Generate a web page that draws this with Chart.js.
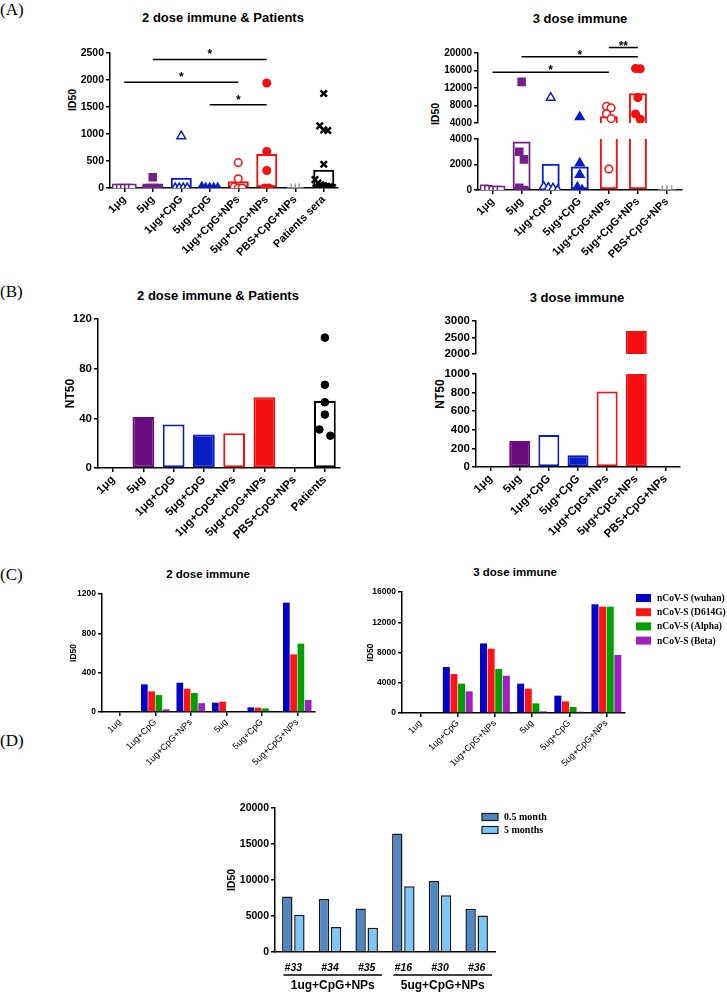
<!DOCTYPE html>
<html>
<head>
<meta charset="utf-8">
<script src="https://cdn.jsdelivr.net/npm/chart.js@4.4.0/dist/chart.umd.min.js"></script>
<style>
body{margin:0;background:#fff;width:727px;height:992px;position:relative;overflow:hidden;font-family:Arial,"Liberation Sans",sans-serif;}
canvas{position:absolute;}
.p{position:absolute;font-family:"Times New Roman","Liberation Serif",serif;font-size:17px;line-height:1;}
.t{position:absolute;font-weight:bold;white-space:nowrap;line-height:1;transform:translate(-50%,-50%);}
.yt{position:absolute;font-weight:bold;white-space:nowrap;line-height:1;transform:translate(-50%,-50%) rotate(-90deg);}
</style>
</head>
<body>
<div class="p" style="left:0;top:1px">(A)</div>
<div class="p" style="left:0;top:283px">(B)</div>
<div class="p" style="left:0;top:566px">(C)</div>
<div class="p" style="left:0;top:732px">(D)</div>

<div class="t" style="left:223px;top:17px;font-size:13px">2 dose immune &amp; Patients</div>
<div class="t" style="left:580px;top:18px;font-size:13px">3 dose immune</div>
<div class="t" style="left:218px;top:295px;font-size:13px">2 dose immune &amp; Patients</div>
<div class="t" style="left:577px;top:297px;font-size:13px">3 dose immune</div>
<div class="t" style="left:208px;top:575px;font-size:11.5px">2 dose immune</div>
<div class="t" style="left:515px;top:573px;font-size:11.5px">3 dose immune</div>

<div class="yt" style="left:72px;top:100px;font-size:10.5px">ID50</div>
<div class="yt" style="left:435px;top:114px;font-size:10.5px">ID50</div>
<div class="yt" style="left:440px;top:394px;font-size:12px">NT50</div>

<canvas id="cA2" width="285" height="230" style="left:60px;top:40px"></canvas>
<canvas id="cA3t" width="288" height="98" style="left:400px;top:33px"></canvas>
<canvas id="cA3b" width="288" height="141" style="left:400px;top:131px"></canvas>
<canvas id="cB2" width="286" height="249" style="left:59px;top:309px"></canvas>
<canvas id="cB3t" width="285" height="52" style="left:400px;top:311px"></canvas>
<canvas id="cB3b" width="285" height="192" style="left:400px;top:365px"></canvas>
<canvas id="cC2" width="255" height="183" style="left:65px;top:584px"></canvas>
<canvas id="cC3" width="365" height="186" style="left:362px;top:582px"></canvas>
<canvas id="cD" width="358" height="194" style="left:222px;top:798px"></canvas>

<script>
// ---- data ----
const groups = ["1μg", "5μg", "1μg+CpG", "5μg+CpG", "1μg+CpG+NPs", "5μg+CpG+NPs", "PBS+CpG+NPs"];
const groupsA2 = [...groups, "Patients sera"];
const groupsB2 = [...groups, "Patients"];

// (A) ID50 of each serum, and the bar heights (means)
const a2Points = [
  [0, 0, 0, 0, 0],
  [200, 0, 0, 0, 0],
  [960, 0, 0, 0, 0],
  [15, 0, 0, 0, 0],
  [470, 170, 20, 0, 0],
  [1945, 675, 325, 0, 0],
  [0, 0, 0],
  [1750, 1150, 1075, 1065, 440, 155, 90, 60, 40, 30, 20, 10, 0, 0, 0, 0, 0]
];
const a2Means = [15, 40, 190, 10, 125, 630, 0, 340];
const a3Points = [
  [100, 60, 0, 0, 0],
  [13400, 3000, 2400, 180, 0],
  [9800, 260, 180, 130, 0],
  [5350, 2100, 1200, 210, 0],
  [7800, 7450, 6100, 5000, 1650],
  [16450, 16400, 9800, 6050, 4850],
  [0, 0, 0]
];
const a3Means = [40, 3800, 2050, 1850, 5550, 10800, 0];
// significance: [from group, to group, ID50 level, label]
const a2Sig = [[0, 4, 1960, "*"], [1, 5, 2380, "*"], [3, 5, 1540, "*"]];
const a3Sig = [[0, 4, 15600, "*"], [1, 5, 19150, "*"], [4, 5, 21250, "**"]];

// (B) NT50
const b2NT50 = [0, 41, 35, 27, 28, 57, 0, 54];
const b2Patients = [105, 67, 53, 43, 31, 26];
const b3NT50 = [0, 280, 345, 125, 810, 2700, 0];

// (C) ID50 against variants
const strains = ["nCoV-S (wuhan)", "nCoV-S (D614G)", "nCoV-S (Alpha)", "nCoV-S (Beta)"];
const groupsC = ["1ug", "1ug+CpG", "1ug+CpG+NPs", "5ug", "5ug+CpG", "5ug+CpG+NPs"];
const c2Wuhan = [0, 281, 298, 95, 47, 1112];
const c2D614G = [0, 210, 237, 105, 44, 586];
const c2Alpha = [0, 172, 193, 0, 37, 695];
const c2Beta = [0, 27, 90, 0, 0, 122];
const c3Wuhan = [0, 6080, 9200, 3880, 2290, 14370];
const c3D614G = [0, 5150, 8500, 3220, 1540, 14060];
const c3Alpha = [100, 3880, 5820, 1280, 790, 14060];
const c3Beta = [0, 2860, 4930, 220, 170, 7670];

// (D) ID50 after 0.5 and 5 months
const mice = ["#33", "#34", "#35", "#16", "#30", "#36"];
const dGroups = ["1ug+CpG+NPs", "5ug+CpG+NPs"];
const dGroupOf = [0, 0, 0, 1, 1, 1];
const d05 = [7700, 7370, 6040, 16450, 9860, 5990];
const d5 = [5160, 3460, 3360, 9120, 7880, 5070];

// ---- styles ----
Chart.defaults.font.family = 'Arial, "Liberation Sans", sans-serif';
Chart.defaults.font.weight = 'bold';
Chart.defaults.color = '#000';
Chart.defaults.animation = false;
Chart.defaults.plugins.legend.display = false;
Chart.defaults.plugins.tooltip.enabled = false;

const PURPLE = '#74208a', PURPLE_B = '#6a0a7d', BLUE = '#0a1ec8', RED = '#f50f0f', GRAY = '#9a9a9a', BLACK = '#000';

const marksA = [
  {s: 'rect', c: PURPLE, f: false, r: 5, w: 1.5},
  {s: 'rect', c: PURPLE, f: true, r: 5, w: 1.5},
  {s: 'triangle', c: BLUE, f: false, r: 5, w: 1.5},
  {s: 'triangle', c: BLUE, f: true, r: 5, w: 1.5},
  {s: 'circle', c: RED, f: false, r: 3.8, w: 1.5},
  {s: 'circle', c: RED, f: true, r: 3.8, w: 1.5},
  {s: 'cross', c: GRAY, f: false, r: 4.5, w: 1.5},
  {s: 'crossRot', c: BLACK, f: false, r: 4.5, w: 2.5}
];
const barColA = [PURPLE, PURPLE, BLUE, BLUE, RED, RED, GRAY, BLACK];

// spread points of one column that would overlap (simple beeswarm)
function swarm(cols, thr, step) {
  const pts = [];
  cols.forEach((vals, i) => {
    const s = vals.slice().sort((a, b) => b - a);
    let k = 0;
    while (k < s.length) {
      let j = k;
      while (j + 1 < s.length && s[k] - s[j + 1] < thr) j++;
      const n = j - k + 1;
      const st = Math.min(step, 0.72 / n);
      for (let m = 0; m < n; m++) pts.push({x: i + (m - (n - 1) / 2) * st, y: s[k + m], g: i});
      k = j + 1;
    }
  });
  return pts;
}

function markOpts(marks) {
  const m = c => (c.raw && marks[c.raw.g]) || marks[0];
  return {
    pointStyle: c => m(c).s,
    pointRadius: c => m(c).r,
    pointBorderWidth: c => m(c).w,
    pointBorderColor: c => m(c).c,
    pointBackgroundColor: c => m(c).f ? m(c).c : '#fff'
  };
}

function yLin(min, max, step, width, size, title) {
  return {
    min: min, max: max,
    ticks: {stepSize: step, font: {size: size}, padding: 2, callback: v => String(v)},
    grid: {drawOnChartArea: false, tickLength: 4, color: '#000', lineWidth: 1.5},
    border: {color: '#000', width: 1.5},
    title: title ? {display: true, text: title[0], font: {size: title[1]}, padding: {top: 4, bottom: 0}} : {display: false},
    afterFit: s => { s.width = width; }
  };
}

function xCat(height, size, rot, weight) {
  return {
    offset: true,
    ticks: {font: {size: size, weight: weight || 'bold'}, minRotation: rot, maxRotation: rot, autoSkip: false, padding: 1},
    grid: {drawOnChartArea: false, offset: false, tickLength: 4, color: '#000', lineWidth: 1.5},
    border: {color: '#000', width: 1.5},
    afterFit: s => { s.height = height; }
  };
}

// hidden linear axis lined up with the category slots, for the scattered points
function xJit(n) {
  return {type: 'linear', display: false, offset: false, grid: {offset: false}, min: -0.5, max: n - 0.5};
}

function opts(pad, scales) {
  return {responsive: false, animation: false, layout: {padding: pad}, scales: scales,
    plugins: {legend: {display: false}, tooltip: {enabled: false}}};
}

function sigLines(marks, gap) {
  return {
    id: 'sigLines',
    afterDatasetsDraw(chart) {
      const {ctx, scales: {x, y}} = chart;
      ctx.save();
      ctx.lineWidth = 1.5;
      ctx.strokeStyle = '#000';
      ctx.fillStyle = '#000';
      ctx.font = 'bold 12px Arial, "Liberation Sans", sans-serif';
      ctx.textAlign = 'center';
      ctx.textBaseline = 'alphabetic';
      marks.forEach(([a, b, v, t]) => {
        const x1 = x.getPixelForValue(a), x2 = x.getPixelForValue(b), yy = y.getPixelForValue(v);
        ctx.beginPath();
        ctx.moveTo(x1, yy);
        ctx.lineTo(x2, yy);
        ctx.stroke();
        ctx.fillText(t, (x1 + x2) / 2, yy + gap);
      });
      ctx.restore();
    }
  };
}

function legendAt(dx, dy, bw, bh, row, font) {
  return {
    id: 'legendAt',
    afterDraw(chart) {
      const {ctx, chartArea} = chart;
      ctx.save();
      ctx.font = font;
      ctx.textBaseline = 'middle';
      chart.data.datasets.forEach((ds, i) => {
        const x = chartArea.right + dx, y = chartArea.top + dy + i * row;
        ctx.fillStyle = ds.backgroundColor;
        ctx.fillRect(x, y - bh / 2, bw, bh);
        if (ds.borderWidth) {
          ctx.lineWidth = 1.2;
          ctx.strokeStyle = ds.borderColor;
          ctx.strokeRect(x, y - bh / 2, bw, bh);
        }
        ctx.fillStyle = '#000';
        ctx.fillText(ds.label, x + bw + 6, y + 0.5);
      });
      ctx.restore();
    }
  };
}

function groupLines(names, member) {
  return {
    id: 'groupLines',
    afterDraw(chart) {
      const {ctx, chartArea, scales: {x}} = chart;
      ctx.save();
      ctx.strokeStyle = '#000';
      ctx.lineWidth = 1.3;
      ctx.fillStyle = '#000';
      ctx.font = 'bold 12px Arial, "Liberation Sans", sans-serif';
      ctx.textAlign = 'center';
      ctx.textBaseline = 'middle';
      names.forEach((name, g) => {
        const idx = member.map((m, i) => m === g ? i : -1).filter(i => i >= 0);
        const x1 = x.getPixelForValue(idx[0] - 0.27), x2 = x.getPixelForValue(idx[idx.length - 1] + 0.42);
        const y = chartArea.bottom + 23;
        ctx.beginPath();
        ctx.moveTo(x1, y);
        ctx.lineTo(x2, y);
        ctx.stroke();
        ctx.fillText(name, (x1 + x2) / 2, y + 11);
      });
      ctx.restore();
    }
  };
}

// bar of one column, centred on its category
function colBar(data, fill, line, pct) {
  return {xAxisID: 'x', data: data, order: 1, grouped: false, backgroundColor: fill, borderColor: line,
    borderWidth: 2, borderSkipped: false, barPercentage: pct, categoryPercentage: 1};
}

// ---- (A) 2 dose immune & patients ----
new Chart(document.getElementById('cA2'), {
  type: 'bar',
  data: {
    labels: groupsA2,
    datasets: [
      Object.assign({type: 'scatter', xAxisID: 'xj', data: swarm(a2Points, 150, 0.14), order: 0}, markOpts(marksA)),
      colBar(a2Means, 'rgba(0,0,0,0)', barColA, 0.74)
    ]
  },
  options: opts({top: 13, right: 5}, {x: xCat(82, 11, 45), xj: xJit(groupsA2.length), y: yLin(0, 2500, 500, 50, 10.5)}),
  plugins: [sigLines(a2Sig, -1)]
});

// ---- (A) 3 dose immune, broken axis ----
const a3Top = a3Points.map(v => v.filter(p => p >= 4000));
const a3Bot = a3Points.map(v => v.filter(p => p < 4000));
new Chart(document.getElementById('cA3t'), {
  type: 'bar',
  data: {
    labels: groups,
    datasets: [
      Object.assign({type: 'scatter', xAxisID: 'xj', data: swarm(a3Top, 1700, 0.16), order: 0}, markOpts(marksA)),
      colBar(a3Means.map(v => v > 4000 ? v : null), 'rgba(0,0,0,0)', barColA, 0.62)
    ]
  },
  options: opts({top: 20, right: 5, bottom: 2},
    {x: Object.assign(xCat(0, 11, 45), {display: false}), xj: xJit(groups.length), y: yLin(4000, 20000, 4000, 78, 10)}),
  plugins: [sigLines(a3Sig, 2)]
});
new Chart(document.getElementById('cA3b'), {
  type: 'bar',
  data: {
    labels: groups,
    datasets: [
      Object.assign({type: 'scatter', xAxisID: 'xj', data: swarm(a3Bot, 700, 0.16), order: 0}, markOpts(marksA)),
      colBar(a3Means, 'rgba(0,0,0,0)', barColA, 0.62)
    ]
  },
  options: opts({top: 8, right: 5}, {x: xCat(82, 11, 45), xj: xJit(groups.length), y: yLin(0, 4000, 2000, 78, 10)})
});

// ---- (B) NT50 ----
const barFillB = ['#fff', PURPLE_B, '#fff', BLUE, '#fff', RED, '#fff', '#fff'];
const barLineB = ['#fff', PURPLE_B, BLUE, BLUE, RED, RED, '#fff', BLACK];
const marksB = groupsB2.map(() => ({s: 'circle', c: BLACK, f: true, r: 3.8, w: 1}));
new Chart(document.getElementById('cB2'), {
  type: 'bar',
  data: {
    labels: groupsB2,
    datasets: [
      Object.assign({type: 'scatter', xAxisID: 'xj', order: 0,
        data: swarm(groupsB2.map((g, i) => i === groupsB2.length - 1 ? b2Patients : []), 8, 0.4)}, markOpts(marksB)),
      colBar(b2NT50, barFillB, barLineB, 0.72)
    ]
  },
  options: opts({top: 10, right: 5}, {x: xCat(90, 11.5, 45), xj: xJit(groupsB2.length), y: yLin(0, 120, 40, 39, 11.5, ['NT50', 12])})
});

new Chart(document.getElementById('cB3t'), {
  type: 'bar',
  data: {labels: groups, datasets: [colBar(b3NT50.map(v => v > 2000 ? v : null), barFillB, barLineB, 0.72)]},
  options: opts({top: 10, right: 5, bottom: 2},
    {x: Object.assign(xCat(0, 11.5, 45), {display: false}), y: yLin(2000, 3000, 500, 76, 11.5)})
});
new Chart(document.getElementById('cB3b'), {
  type: 'bar',
  data: {labels: groups, datasets: [colBar(b3NT50, barFillB, barLineB, 0.72)]},
  options: opts({top: 8, right: 5}, {x: xCat(90, 11.5, 45), y: yLin(0, 1000, 200, 76, 11.5)})
});

// ---- (C) variants ----
const colC = ['#0000c8', '#ff1414', '#00a000', '#a020c0'];
function variantSets(series) {
  return series.map((d, i) => ({label: strains[i], data: d, backgroundColor: colC[i], borderWidth: 0,
    barPercentage: 0.92, categoryPercentage: 0.82}));
}
new Chart(document.getElementById('cC2'), {
  type: 'bar',
  data: {labels: groupsC, datasets: variantSets([c2Wuhan, c2D614G, c2Alpha, c2Beta])},
  options: opts({top: 10, right: 5}, {x: xCat(55, 9, 45, 'normal'), y: yLin(0, 1200, 400, 37, 8.5, ['ID50', 8.5])})
});
new Chart(document.getElementById('cC3'), {
  type: 'bar',
  data: {labels: groupsC, datasets: variantSets([c3Wuhan, c3D614G, c3Alpha, c3Beta])},
  options: opts({top: 10, right: 102}, {x: xCat(55, 9, 45, 'normal'), y: yLin(0, 16000, 4000, 40, 8.5, ['ID50', 8.5])}),
  plugins: [legendAt(11, 6, 15, 8, 14.2, 'bold 9.5px "Times New Roman", "Liberation Serif", serif')]
});

// ---- (D) 0.5 vs 5 months ----
const xD = xCat(40, 10.5, 0);
xD.ticks.font.style = 'italic';
xD.ticks.padding = 2;
xD.grid = {display: false};
new Chart(document.getElementById('cD'), {
  type: 'bar',
  data: {
    labels: mice,
    datasets: [
      {label: '0.5 month', data: d05, backgroundColor: '#4f87c3', borderColor: '#1a1a1a', borderWidth: 1.5,
        barPercentage: 0.86, categoryPercentage: 0.66},
      {label: '5 months', data: d5, backgroundColor: '#7cc8f8', borderColor: '#1a1a1a', borderWidth: 1.5,
        barPercentage: 0.86, categoryPercentage: 0.66}
    ]
  },
  options: opts({top: 10, right: 85}, {x: xD, y: yLin(0, 20000, 5000, 53, 10.5, ['ID50', 10.5])}),
  plugins: [legendAt(-13, 9, 16, 7, 13, 'bold 10px "Times New Roman", "Liberation Serif", serif'),
    groupLines(dGroups, dGroupOf)]
});
</script>
</body>
</html>
